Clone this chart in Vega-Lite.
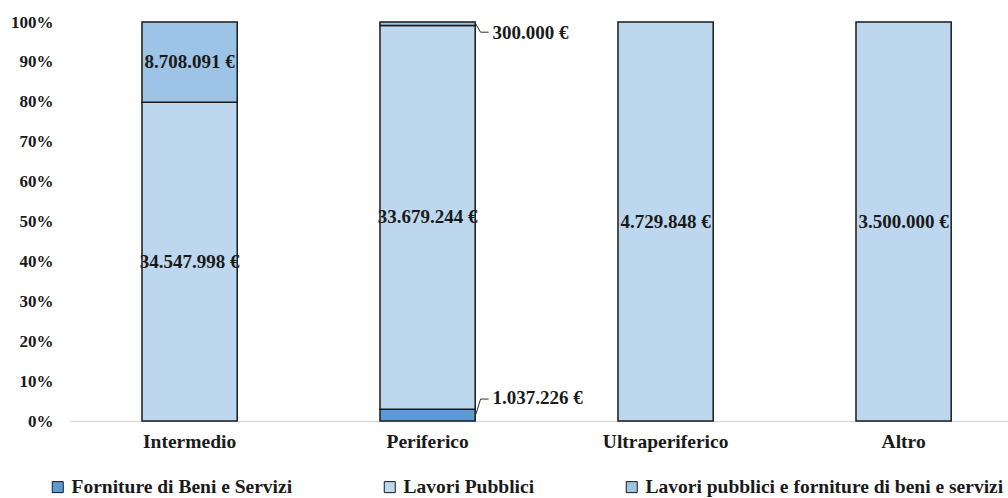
{
  "$schema": "https://vega.github.io/schema/vega-lite/v6.json",
  "width": 938,
  "height": 399,
  "autosize": {"type": "none"},
  "padding": {"left": 70, "top": 22, "right": 0, "bottom": 77},
  "background": "white",
  "config": {
    "view": {"stroke": null},
    "font": "Liberation Serif"
  },
  "resolve": {"axis": {"y": "independent"}},
  "data": {
    "values": [
      {"area": "Intermedio", "tipo": "Lavori Pubblici", "importo": 34547998},
      {"area": "Intermedio", "tipo": "Lavori pubblici e forniture di beni e servizi", "importo": 8708091},
      {"area": "Periferico", "tipo": "Forniture di Beni e Servizi", "importo": 1037226},
      {"area": "Periferico", "tipo": "Lavori Pubblici", "importo": 33679244},
      {"area": "Periferico", "tipo": "Lavori pubblici e forniture di beni e servizi", "importo": 300000},
      {"area": "Ultraperiferico", "tipo": "Lavori Pubblici", "importo": 4729848},
      {"area": "Altro", "tipo": "Lavori Pubblici", "importo": 3500000}
    ]
  },
  "transform": [
    {"stack": "importo", "groupby": ["area"], "offset": "normalize", "sort": [{"field": "tipo", "order": "ascending"}], "as": ["y0", "y1"]},
    {"calculate": "(datum.y0 + datum.y1) / 2", "as": "ymid"},
    {"calculate": "datum.y1 - datum.y0", "as": "quota"},
    {"calculate": "replace(format(datum.importo, ','), regexp(',', 'g'), '.') + ' €'", "as": "etichetta"}
  ],
  "encoding": {
    "x": {
      "field": "area",
      "type": "nominal",
      "sort": ["Intermedio", "Periferico", "Ultraperiferico", "Altro"],
      "scale": {"paddingInner": 0.6, "paddingOuter": 0.2706, "align": 0.559},
      "axis": {
        "title": null,
        "labelAngle": 0,
        "ticks": false,
        "domainColor": "#d9d9d9",
        "domainWidth": 1.3,
        "labelFont": "Liberation Serif",
        "labelFontSize": 19.5,
        "labelFontWeight": "bold",
        "labelColor": "#1a1a1a",
        "labelPadding": 11
      }
    }
  },
  "layer": [
    {
      "mark": {"type": "bar", "stroke": "#1a1a1a", "strokeWidth": 1.5},
      "encoding": {
        "y": {
          "field": "y0",
          "type": "quantitative",
          "scale": {"domain": [0, 1]},
          "axis": {
            "title": null,
            "values": [0, 0.1, 0.2, 0.3, 0.4, 0.5, 0.6, 0.7, 0.8, 0.9, 1],
            "format": ".0%",
            "labelOverlap": false,
            "domain": false,
            "ticks": false,
            "grid": false,
            "labelFont": "Liberation Serif",
            "labelFontSize": 17,
            "labelFontWeight": "bold",
            "labelColor": "#1a1a1a",
            "labelPadding": 17
          }
        },
        "y2": {"field": "y1"},
        "color": {
          "field": "tipo",
          "type": "nominal",
          "scale": {
            "domain": ["Forniture di Beni e Servizi", "Lavori Pubblici", "Lavori pubblici e forniture di beni e servizi"],
            "range": ["#5b9bd5", "#bdd7ee", "#9dc3e6"]
          },
          "legend": {
            "orient": "none",
            "legendX": -22,
            "legendY": 455,
            "direction": "horizontal",
            "title": null,
            "symbolType": "square",
            "symbolSize": 121,
            "symbolStrokeColor": "#1a1a1a",
            "symbolStrokeWidth": 1,
            "labelFont": "Liberation Serif",
            "labelFontSize": 19.5,
            "labelFontWeight": "bold",
            "labelColor": "#1a1a1a",
            "labelLimit": 600,
            "labelOffset": 4,
            "columnPadding": 87
          }
        }
      }
    },
    {
      "transform": [{"filter": "datum.quota >= 0.05"}],
      "mark": {"type": "text", "font": "Liberation Serif", "fontSize": 19, "fontWeight": "bold", "color": "#1a1a1a"},
      "encoding": {
        "y": {"field": "ymid", "type": "quantitative", "axis": null},
        "text": {"field": "etichetta"}
      }
    },
    {
      "transform": [{"filter": "datum.quota < 0.05 && datum.ymid > 0.5"}],
      "mark": {"type": "text", "font": "Liberation Serif", "fontSize": 19, "fontWeight": "bold", "color": "#1a1a1a", "align": "left", "dx": 65, "dy": 9},
      "encoding": {
        "y": {"field": "ymid", "type": "quantitative", "axis": null},
        "text": {"field": "etichetta"}
      }
    },
    {
      "transform": [{"filter": "datum.quota < 0.05 && datum.ymid < 0.5"}],
      "mark": {"type": "text", "font": "Liberation Serif", "fontSize": 19, "fontWeight": "bold", "color": "#1a1a1a", "align": "left", "dx": 65, "dy": -17},
      "encoding": {
        "y": {"field": "ymid", "type": "quantitative", "axis": null},
        "text": {"field": "etichetta"}
      }
    },
    {
      "transform": [{"filter": "datum.quota < 0.05 && datum.ymid > 0.5"}],
      "mark": {"type": "rule", "color": "#333333", "strokeWidth": 1, "xOffset": 48, "x2Offset": 53, "y2Offset": 8.5},
      "encoding": {
        "x2": {"field": "area"},
        "y": {"field": "ymid", "type": "quantitative", "axis": null},
        "y2": {"field": "ymid"}
      }
    },
    {
      "transform": [{"filter": "datum.quota < 0.05 && datum.ymid > 0.5"}],
      "mark": {"type": "rule", "color": "#333333", "strokeWidth": 1, "xOffset": 53, "x2Offset": 61, "yOffset": 8.5, "y2Offset": 8.5},
      "encoding": {
        "x2": {"field": "area"},
        "y": {"field": "ymid", "type": "quantitative", "axis": null},
        "y2": {"field": "ymid"}
      }
    },
    {
      "transform": [{"filter": "datum.quota < 0.05 && datum.ymid < 0.5"}],
      "mark": {"type": "rule", "color": "#333333", "strokeWidth": 1, "xOffset": 48, "x2Offset": 53, "y2Offset": -16},
      "encoding": {
        "x2": {"field": "area"},
        "y": {"field": "ymid", "type": "quantitative", "axis": null},
        "y2": {"field": "ymid"}
      }
    },
    {
      "transform": [{"filter": "datum.quota < 0.05 && datum.ymid < 0.5"}],
      "mark": {"type": "rule", "color": "#333333", "strokeWidth": 1, "xOffset": 53, "x2Offset": 61, "yOffset": -16, "y2Offset": -16},
      "encoding": {
        "x2": {"field": "area"},
        "y": {"field": "ymid", "type": "quantitative", "axis": null},
        "y2": {"field": "ymid"}
      }
    }
  ]
}
